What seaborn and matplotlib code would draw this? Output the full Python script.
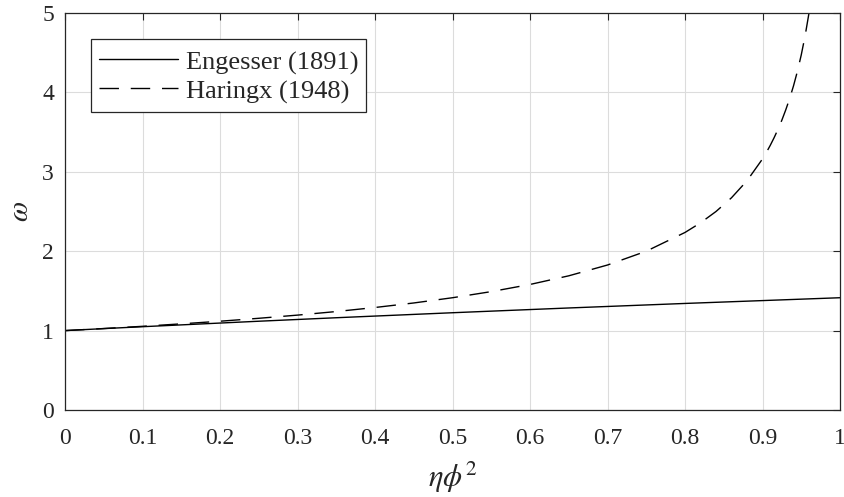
import matplotlib
matplotlib.use("Agg")
import matplotlib.pyplot as plt
import seaborn as sns
import pandas as pd

# Engesser (1891) shear-corrected factor
eng_x = [0.0, 0.05, 0.1, 0.15, 0.2, 0.25, 0.3, 0.35, 0.4, 0.45, 0.5,
         0.55, 0.6, 0.65, 0.7, 0.75, 0.8, 0.85, 0.9, 0.95, 1.0]
eng_w = [1.000, 1.025, 1.049, 1.072, 1.095, 1.118, 1.140, 1.162, 1.183, 1.204, 1.225,
         1.245, 1.265, 1.285, 1.304, 1.323, 1.342, 1.360, 1.378, 1.396, 1.414]

# Haringx (1948) factor
har_x = [0.0, 0.05, 0.1, 0.15, 0.2, 0.25, 0.3, 0.35, 0.4, 0.45, 0.5,
         0.55, 0.6, 0.65, 0.7, 0.75, 0.8, 0.82, 0.84, 0.86, 0.88, 0.9,
         0.905, 0.91, 0.915, 0.92, 0.925, 0.93, 0.935, 0.94, 0.945, 0.95, 0.955, 0.96]
har_w = [1.000, 1.026, 1.054, 1.085, 1.118, 1.155, 1.195, 1.240, 1.291, 1.348, 1.414,
         1.491, 1.581, 1.690, 1.826, 2.000, 2.236, 2.357, 2.500, 2.673, 2.887, 3.162,
         3.244, 3.333, 3.430, 3.536, 3.651, 3.780, 3.922, 4.082, 4.264, 4.472, 4.714, 5.000]

x_ticks = [0, 0.1, 0.2, 0.3, 0.4, 0.5, 0.6, 0.7, 0.8, 0.9, 1]
x_tick_labels = ["0", "0.1", "0.2", "0.3", "0.4", "0.5", "0.6", "0.7", "0.8", "0.9", "1"]
y_ticks = [0, 1, 2, 3, 4, 5]

DASH = (14, 8.5)

sns.set_theme(style="white")
plt.rcParams["font.family"] = ["Liberation Serif", "DejaVu Serif"]
plt.rcParams["mathtext.fontset"] = "stix"

fig = plt.figure(figsize=(8.44, 4.97), dpi=100)
ax = fig.add_axes([65 / 844, 1 - 410 / 497, 775 / 844, 397 / 497])

eng = pd.DataFrame({"x": eng_x, "w": eng_w})
har = pd.DataFrame({"x": har_x, "w": har_w})

sns.lineplot(data=eng, x="x", y="w", ax=ax, color="black", linewidth=1.0,
             label="Engesser (1891)")
sns.lineplot(data=har, x="x", y="w", ax=ax, color="black", linewidth=1.0,
             label="Haringx (1948)")
ax.lines[1].set_dashes(DASH)

ax.set_xlim(0, 1)
ax.set_ylim(0, 5)
ax.set_xticks(x_ticks)
ax.set_xticklabels(x_tick_labels)
ax.set_yticks(y_ticks)

ax.grid(True, color="#dcdcdc", linewidth=0.8)
ax.set_axisbelow(True)
for s in ax.spines.values():
    s.set_color("#262626")
    s.set_linewidth(0.9)
ax.tick_params(direction="in", length=5, width=0.8, color="#262626",
               top=True, right=True, labelsize=17, labelcolor="#262626")
ax.tick_params(axis="x", pad=13)
ax.tick_params(axis="y", pad=8)

ax.set_xlabel(r"$\eta\phi^2$", fontsize=22, color="#262626", labelpad=8)
ax.set_ylabel(r"$\omega$", fontsize=21, color="#262626", labelpad=6)

leg = ax.legend(loc="upper left", fontsize=19, frameon=True, fancybox=False,
                framealpha=1, edgecolor="#262626", handlelength=3.0,
                handleheight=1.2, borderaxespad=1.0, borderpad=0.3,
                labelspacing=0.05, handletextpad=0.27)
leg.get_frame().set_linewidth(0.9)
leg.get_lines()[1].set_dashes(DASH)

fig.savefig("out.png", dpi=100)
